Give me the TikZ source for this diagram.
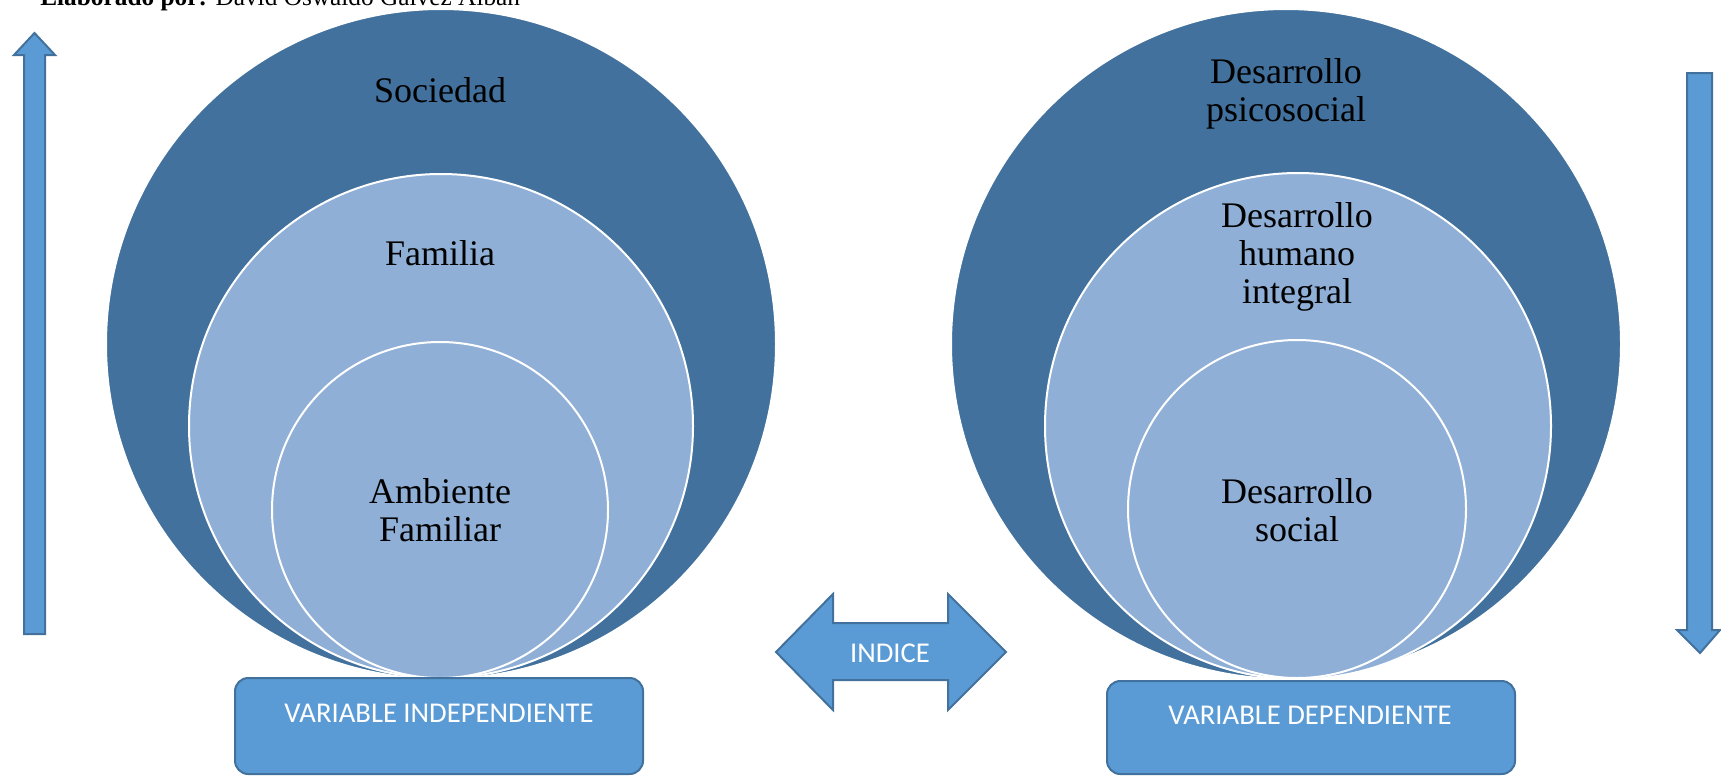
\documentclass[tikz,border=0pt]{standalone}
\usepackage{fontspec}
\setmainfont{Liberation Serif}
\newfontfamily\calibri{Carlito}
\usepackage{tikz}
\definecolor{circdark}{HTML}{41719C}
\definecolor{circlight}{HTML}{8FAFD6}
\definecolor{boxblue}{HTML}{5B9BD5}
\colorlet{boxline}{circdark}

\tikzset{
  lbl/.style={font=\fontsize{27}{28.5}\selectfont, align=center, inner sep=0},
  boxlbl/.style={font=\calibri\fontsize{21.5}{24}\selectfont, text=white, inner sep=0, anchor=base},
  shapefill/.style={fill=boxblue, draw=boxline, line width=1.5pt, line join=miter}
}

\begin{document}
\begin{tikzpicture}[x=0.75pt,y=-0.75pt]
        \useasboundingbox (0,0) rectangle (1721,776);
        \node[anchor=base west, inner sep=0, font=\fontsize{19}{20}\selectfont] (autor) at (40,5)
            {\textbf{Elaborado por:} David Oswaldo Gálvez Alban};
        % circulos
        \foreach \cx/\cy/\r/\col in {441/344/335/circdark, 441/426/252/circlight, 440/510/168/circlight,
                                     1286/344/335/circdark, 1298/426/253/circlight, 1297/509/169/circlight}{
            \filldraw[fill=\col, draw=white, line width=1.5pt] (\cx,\cy) circle[radius=\r*0.75pt];
        }
        \node[lbl, anchor=base] (sociedad) at (440,102) {Sociedad};
        \node[lbl, anchor=base] (familia) at (440,265) {Familia};
        \node[lbl] (ambiente) at (440,510) {Ambiente\\Familiar};
        \node[lbl] (psicosocial) at (1286,94) {Desarrollo\\psicosocial};
        \node[lbl] (humano) at (1297,257) {Desarrollo\\humano\\integral};
        \node[lbl] (social) at (1297,510) {Desarrollo\\social};
        % flechas
        \draw[shapefill] (24,634) -- (24,55) -- (14,55) -- (34.5,33) -- (55,55) -- (45,55) -- (45,634) -- cycle;
        \draw[shapefill] (1687,73) -- (1712,73) -- (1712,630) -- (1720,630) -- (1700,653) -- (1677,630) -- (1687,630) -- cycle;
        \draw[shapefill] (776,652) -- (833,594) -- (833,623) -- (948,623) -- (948,594) -- (1006,652)
            -- (948,710) -- (948,680) -- (833,680) -- (833,710) -- cycle;
        \node[boxlbl] (indice) at (890,662) {INDICE};
        % variables
        \draw[shapefill, rounded corners=10pt] (235,678) rectangle (643,774);
        \node[boxlbl] (vind) at (439,722) {VARIABLE INDEPENDIENTE};
        \draw[shapefill, rounded corners=10pt] (1107,681) rectangle (1515,774);
        \node[boxlbl] (vdep) at (1310,724) {VARIABLE DEPENDIENTE};
\end{tikzpicture}
\end{document}
